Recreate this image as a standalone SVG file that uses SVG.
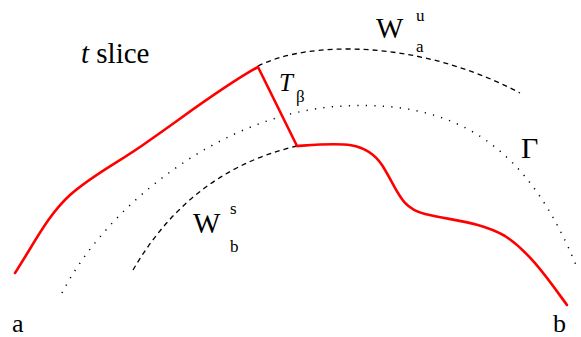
<svg xmlns="http://www.w3.org/2000/svg" width="581" height="337" viewBox="0 0 581 337">
<style>
.red{fill:none;stroke:#ff0000;stroke-width:2.6;stroke-linecap:round;stroke-linejoin:round}
.dash{fill:none;stroke:#000;stroke-width:1.3;stroke-dasharray:5 4}
.dot{fill:none;stroke:#000;stroke-width:1.5;stroke-dasharray:1.2 7.3}
text{font-family:"Liberation Serif","Times New Roman",serif;fill:#000}
</style>
<rect width="581" height="337" fill="#fff"/>
<g id="curves">
<path id="gamma" class="dot" d="M62,293 C110,200 230,110 345,106 C460,100 530,150 578,270"/>
<path id="wu" class="dash" d="M258,66 C310,40 420,40 520,93"/>
<path id="ws" class="dash" d="M133,270 C165,215 215,165 297,146"/>
<path id="red-left" class="red" d="M15,273 C35,242 48,215 70,195 C95,173 120,162 150,140 C190,112 225,85 258,67"/>
<path id="t-beta" class="red" d="M258,67 L297,146"/>
<path id="red-right" class="red" d="M297,146 C340,143 365,140 382,165 C398,190 400,208 425,214 C455,221 480,222 505,236 C530,252 550,282 567,305"/>
</g>
<g id="labels">
<text x="81" y="63" font-size="29" font-family="Liberation Serif, Times New Roman, serif"><tspan font-style="italic">t</tspan> slice</text>
<text x="376" y="38" font-size="29" font-family="Liberation Serif, Times New Roman, serif">W</text>
<text x="416" y="21" font-size="17" font-family="Liberation Serif, Times New Roman, serif">u</text>
<text x="416" y="52" font-size="17" font-family="Liberation Serif, Times New Roman, serif">a</text>
<text x="521" y="158" font-size="30" font-family="Liberation Serif, Times New Roman, serif">Γ</text>
<text x="279" y="91" font-size="25" font-style="italic" font-family="Liberation Serif, Times New Roman, serif">T</text>
<text x="296" y="102" font-size="17" font-family="Liberation Serif, Times New Roman, serif">β</text>
<text x="193" y="233" font-size="29" font-family="Liberation Serif, Times New Roman, serif">W</text>
<text x="230" y="214" font-size="17" font-family="Liberation Serif, Times New Roman, serif">s</text>
<text x="230" y="252" font-size="17" font-family="Liberation Serif, Times New Roman, serif">b</text>
<text x="12" y="332" font-size="26" font-family="Liberation Serif, Times New Roman, serif">a</text>
<text x="553" y="332" font-size="26" font-family="Liberation Serif, Times New Roman, serif">b</text>
</g>
</svg>
